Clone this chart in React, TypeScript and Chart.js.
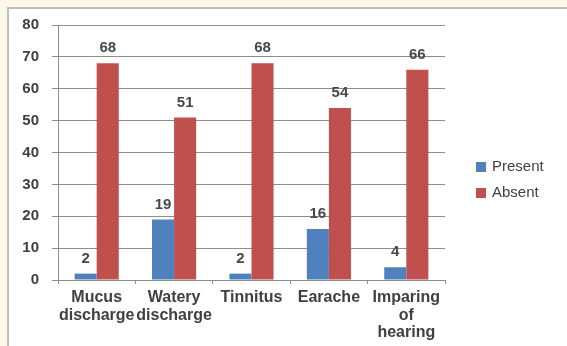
import React, { useEffect, useRef } from "react";
import { Chart, registerables } from "chart.js";

Chart.register(...registerables);

const categories: string[][] = [
  ["Mucus", "discharge"],
  ["Watery", "discharge"],
  ["Tinnitus"],
  ["Earache"],
  ["Imparing", "of", "hearing"],
];
const presentValues = [2, 19, 2, 16, 4];
const absentValues = [68, 51, 68, 54, 66];
const yTicks = [0, 10, 20, 30, 40, 50, 60, 70, 80];

const FONT = "'Liberation Sans', Arial, sans-serif";
const TEXT = "#404040";
const GRID = "#8c8c8c";

// Cream page with a white panel framed on the left and top
const panelPlugin = {
  id: "panel",
  beforeDraw(chart: Chart) {
    const { ctx, width, height } = chart;
    ctx.save();
    ctx.fillStyle = "#fdf8e6";
    ctx.fillRect(0, 0, width, height);
    ctx.fillStyle = "#ffffff";
    ctx.fillRect(8, 8, width - 8, height - 8);
    ctx.strokeStyle = "#bdbdbd";
    ctx.lineWidth = 2;
    ctx.beginPath();
    ctx.moveTo(8, height);
    ctx.lineTo(8, 8);
    ctx.lineTo(width, 8);
    ctx.stroke();
    ctx.restore();
  },
};

// Value labels above each bar
const valueLabelPlugin = {
  id: "valueLabels",
  afterDatasetsDraw(chart: Chart) {
    const { ctx } = chart;
    ctx.save();
    ctx.font = `bold 15px ${FONT}`;
    ctx.fillStyle = "#484848";
    ctx.textAlign = "center";
    ctx.textBaseline = "middle";
    chart.data.datasets.forEach((ds, di) => {
      const meta = chart.getDatasetMeta(di);
      meta.data.forEach((bar: any, i: number) => {
        const v = ds.data[i] as number;
        ctx.fillText(String(v), bar.x, bar.y - 15);
      });
    });
    ctx.restore();
  },
};

// Legend at the right of the plot area
const sideLegendPlugin = {
  id: "sideLegend",
  afterDraw(chart: Chart) {
    const { ctx, chartArea } = chart;
    const x = chartArea.right + 31;
    const y0 = 167;
    ctx.save();
    ctx.font = `15px ${FONT}`;
    ctx.textBaseline = "middle";
    ctx.textAlign = "left";
    chart.data.datasets.forEach((ds, i) => {
      const y = y0 + i * 26;
      ctx.fillStyle = ds.backgroundColor as string;
      ctx.fillRect(x, y - 5, 10, 10);
      ctx.fillStyle = TEXT;
      ctx.fillText(ds.label as string, x + 16, y);
    });
    ctx.restore();
  },
};

export default function App() {
  const ref = useRef<HTMLCanvasElement>(null);

  useEffect(() => {
    if (!ref.current) return;
    const chart = new Chart(ref.current, {
      type: "bar",
      data: {
        labels: categories,
        datasets: [
          {
            label: "Present",
            data: presentValues,
            backgroundColor: "#4f81bd",
            borderWidth: 0,
          },
          {
            label: "Absent",
            data: absentValues,
            backgroundColor: "#c0504d",
            borderWidth: 0,
          },
        ],
      },
      options: {
        responsive: false,
        animation: false,
        devicePixelRatio: 1,
        layout: { padding: { left: 0, top: 25, right: 122, bottom: 0 } },
        plugins: {
          legend: { display: false },
          tooltip: { enabled: false },
        },
        datasets: {
          bar: { categoryPercentage: 0.57, barPercentage: 1 },
        },
        scales: {
          x: {
            grid: {
              offset: true,
              drawOnChartArea: false,
              drawTicks: true,
              tickLength: 4,
              color: GRID,
            },
            border: { display: true, color: GRID, width: 1 },
            ticks: {
              color: TEXT,
              font: { family: FONT, size: 16, weight: "bold", lineHeight: 1.1 },
              padding: 5,
              maxRotation: 0,
              autoSkip: false,
            },
            afterFit(scale: any) {
              scale.height = 66;
            },
          },
          y: {
            min: 0,
            max: 80,
            afterBuildTicks(scale: any) {
              scale.ticks = yTicks.map((v) => ({ value: v }));
            },
            grid: {
              color: GRID,
              drawTicks: true,
              tickLength: 6,
            },
            border: { display: true, color: GRID, width: 1 },
            ticks: {
              color: TEXT,
              font: { family: FONT, size: 15, weight: "bold" },
              padding: 13,
            },
            afterFit(scale: any) {
              scale.width = 58;
            },
          },
        },
      },
      plugins: [panelPlugin, valueLabelPlugin, sideLegendPlugin],
    });
    return () => chart.destroy();
  }, []);

  return (
    <div style={{ position: "fixed", left: 0, top: 0, width: 567, height: 346 }}>
      <canvas ref={ref} width={567} height={346} />
    </div>
  );
}
